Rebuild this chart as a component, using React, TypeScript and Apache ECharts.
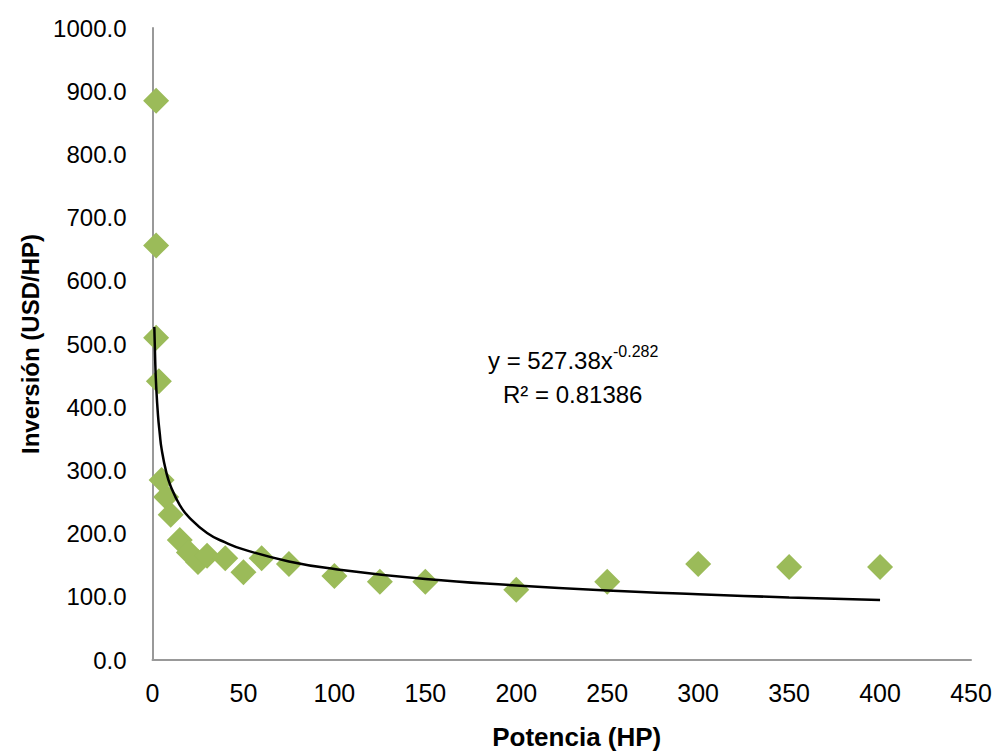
import React, { useEffect, useRef } from "react";
import * as echarts from "echarts";

const potenciaHP = [2, 2, 2, 3.5, 5, 7.5, 10, 15, 20, 25, 30, 40, 50, 60, 75, 100, 125, 150, 200, 250, 300, 350, 400];
const inversionUSDperHP = [885, 656, 510, 441, 285, 258, 230, 190, 170, 155, 165, 161, 139, 161, 152, 133, 124, 124, 111, 124, 152, 147, 147];

const trendX = [1, 1.5, 2, 3, 4, 5, 7.5, 10, 15, 20, 30, 40, 50, 75, 100, 150, 200, 250, 300, 350, 400];
const trendY = [527, 472, 435, 388, 358, 334, 298, 275, 245, 226, 201, 186, 175, 156, 144, 128, 118, 110, 104, 99, 95];

const xTicks = { min: 0, max: 450, interval: 50 };
const yTicks = { min: 0, max: 1000, interval: 100 };

export default function App() {
  const ref = useRef<HTMLDivElement>(null);
  useEffect(() => {
    if (!ref.current) return;
    const chart = echarts.init(ref.current, null, { renderer: "svg" });
    const sans = "'Liberation Sans', Arial, sans-serif";
    chart.setOption({
      animation: false,
      backgroundColor: "#ffffff",
      grid: { left: 152.5, right: 26, top: 28, bottom: 94, containLabel: false },
      xAxis: {
        type: "value",
        min: xTicks.min,
        max: xTicks.max,
        interval: xTicks.interval,
        name: "Potencia (HP)",
        nameLocation: "middle",
        nameGap: 64,
        nameTextStyle: { fontFamily: sans, fontWeight: "bold", fontSize: 26, color: "#000", padding: [0, 0, 0, 30] },
        axisLine: { show: true, lineStyle: { color: "#999999", width: 2 } },
        axisTick: { show: false },
        splitLine: { show: false },
        axisLabel: { fontFamily: sans, fontSize: 25, color: "#000", margin: 20 },
      },
      yAxis: {
        type: "value",
        min: yTicks.min,
        max: yTicks.max,
        interval: yTicks.interval,
        name: "Inversión (USD/HP)",
        nameLocation: "middle",
        nameGap: 108,
        nameRotate: 90,
        nameTextStyle: { fontFamily: sans, fontWeight: "bold", fontSize: 24, color: "#000" },
        axisLine: { show: true, lineStyle: { color: "#999999", width: 2 } },
        axisTick: { show: false },
        splitLine: { show: false },
        axisLabel: {
          fontFamily: sans,
          fontSize: 24,
          color: "#000",
          margin: 26,
          formatter: (v: number) => v.toFixed(1),
        },
      },
      series: [
        {
          type: "line",
          data: trendX.map((x, i) => [x, trendY[i]]),
          smooth: true,
          showSymbol: false,
          lineStyle: { color: "#000", width: 2.5 },
          z: 3,
        },
        {
          type: "scatter",
          data: potenciaHP.map((x, i) => [x, inversionUSDperHP[i]]),
          symbol: "diamond",
          symbolSize: 26,
          itemStyle: { color: "#9BBB59", opacity: 1 },
          z: 2,
        },
      ],
      graphic: [
        {
          type: "text",
          left: 488,
          top: 348,
          style: { text: "y = 527.38x", fontFamily: sans, fontSize: 24, fill: "#000" },
        },
        {
          type: "text",
          left: 613,
          top: 343,
          style: { text: "-0.282", fontFamily: sans, fontSize: 16, fill: "#000" },
        },
        {
          type: "text",
          left: 503,
          top: 382,
          style: { text: "R² = 0.81386", fontFamily: sans, fontSize: 24, fill: "#000" },
        },
      ],
    });
    return () => chart.dispose();
  }, []);
  return (
    <div
      ref={ref}
      style={{ position: "absolute", left: 0, top: 0, width: 997, height: 755, overflow: "hidden" }}
    />
  );
}
